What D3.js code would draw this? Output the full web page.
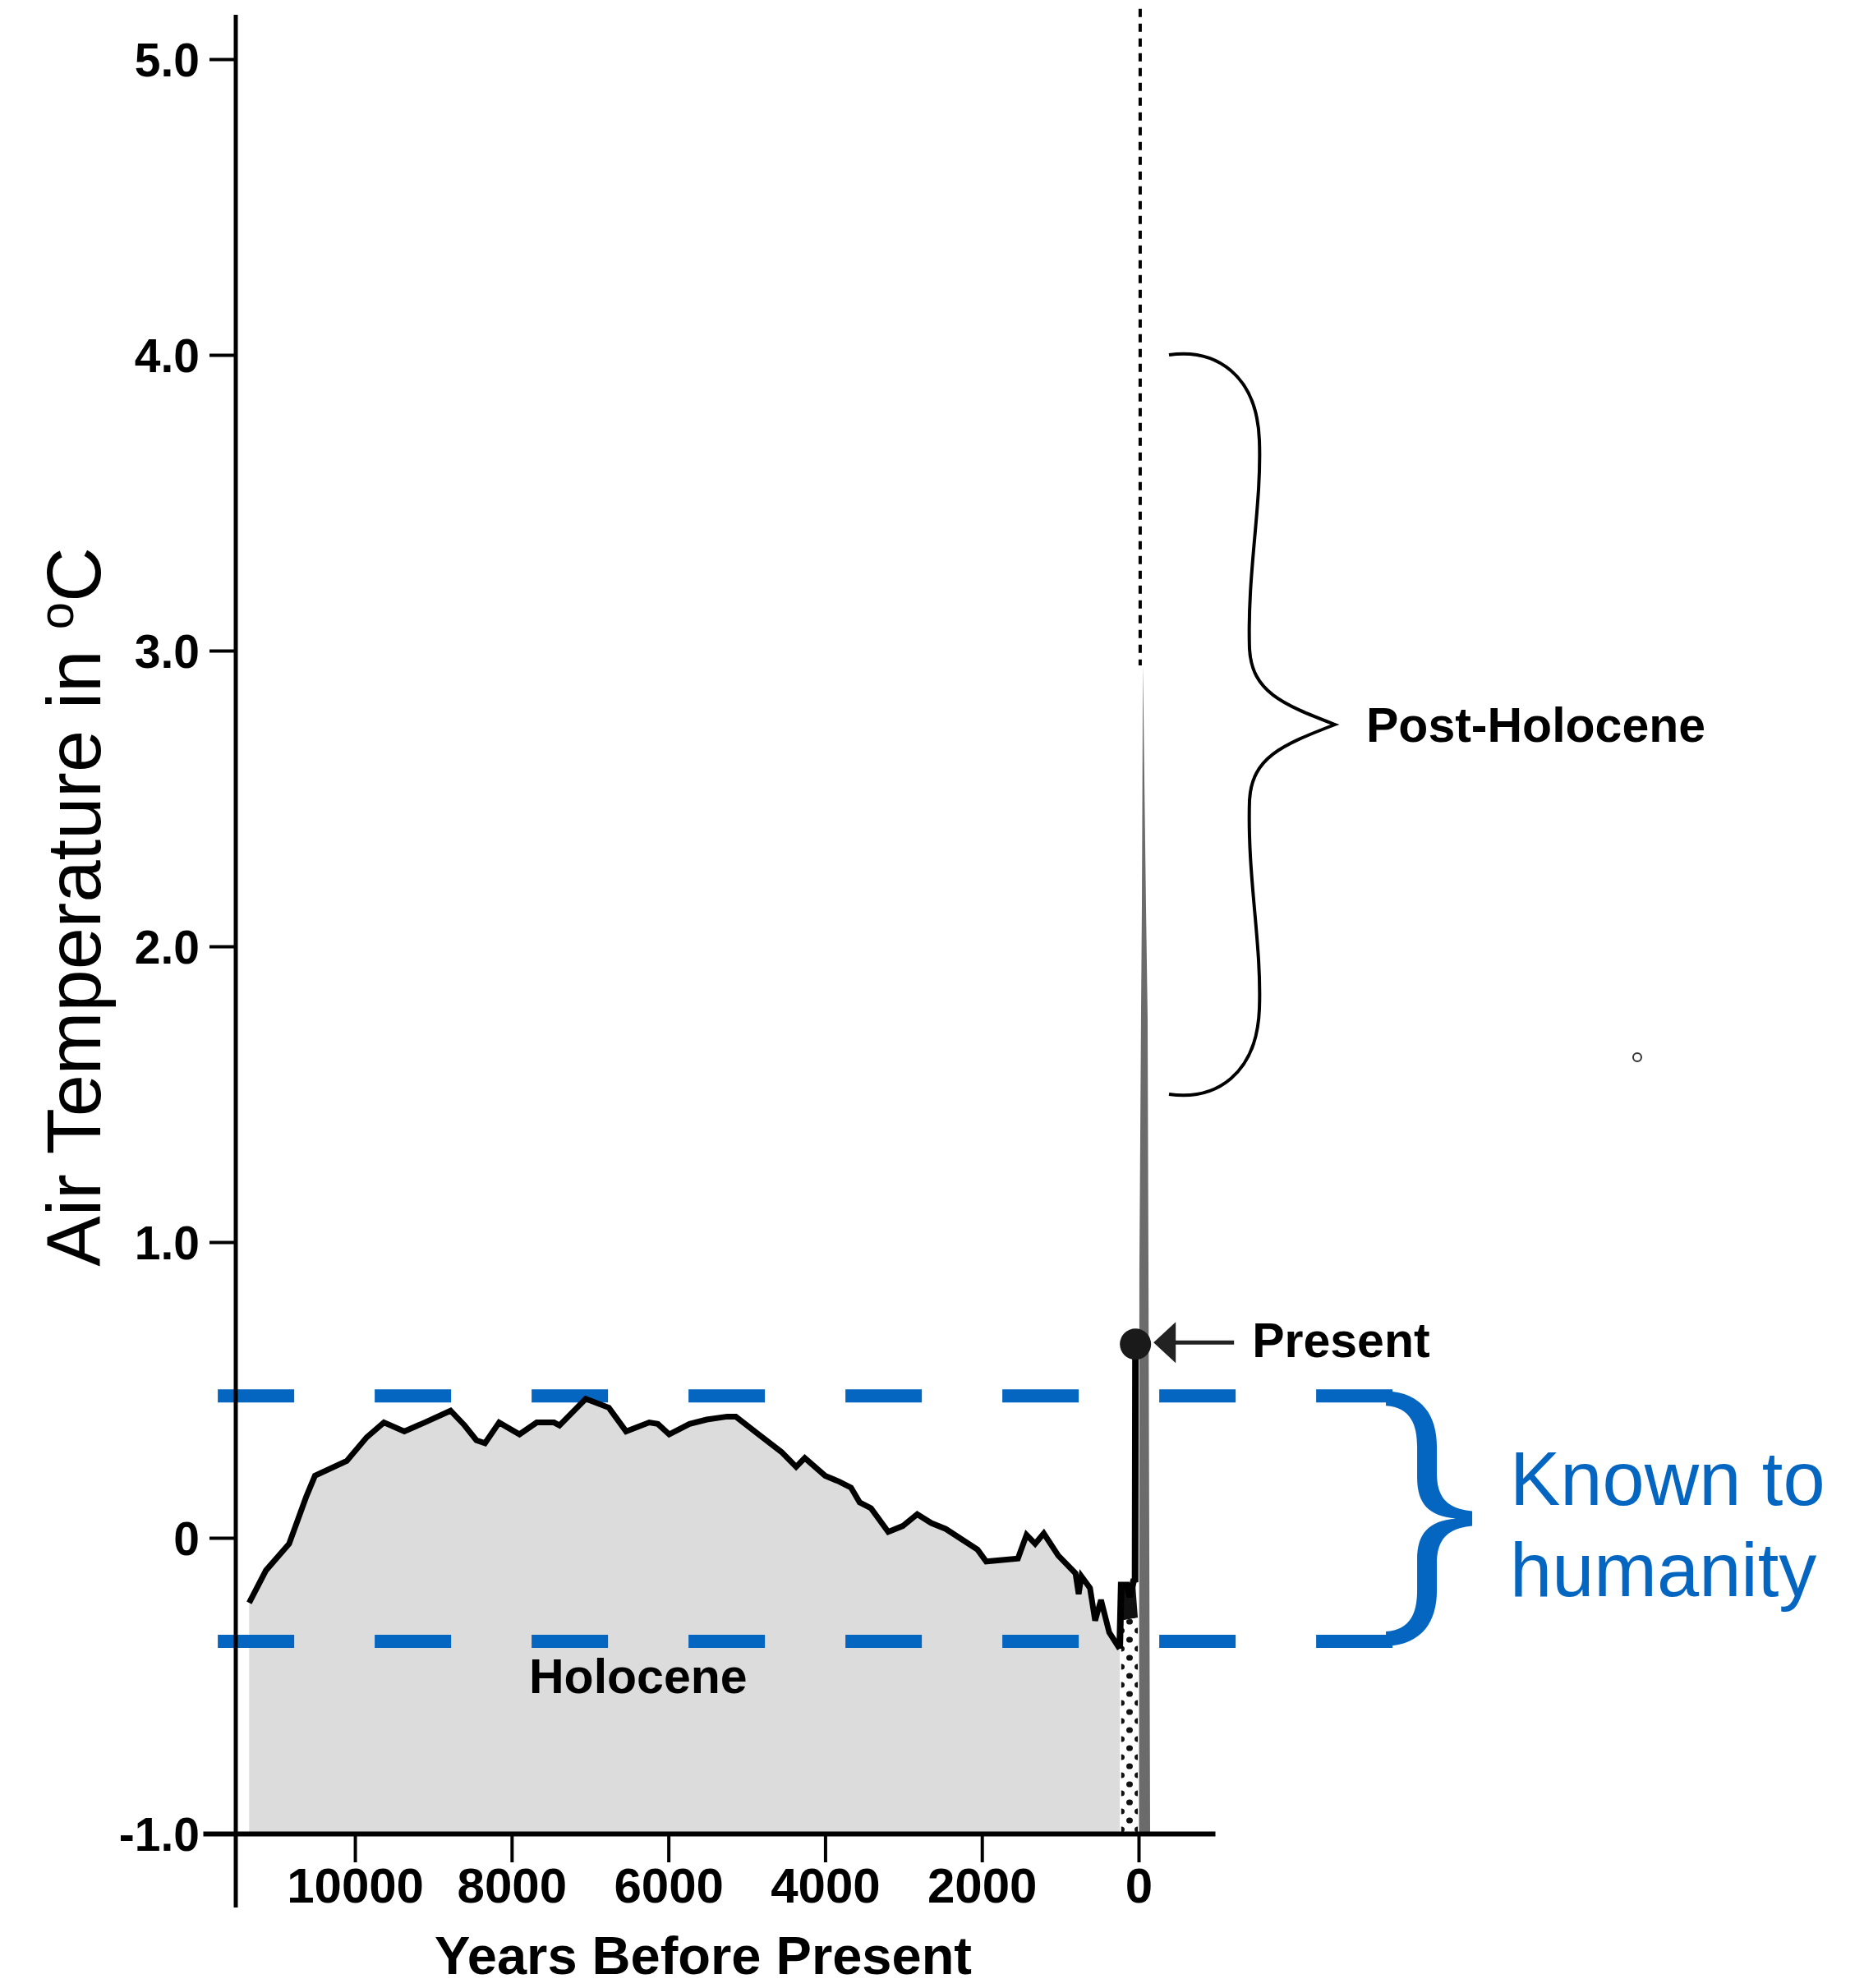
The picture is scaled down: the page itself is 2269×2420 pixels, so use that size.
<!DOCTYPE html>
<html><head><meta charset="utf-8">
<script src="https://cdn.jsdelivr.net/npm/d3@7"></script>
<style>body{margin:0;background:#fff}svg{display:block}</style>
</head><body>
<svg id="chart" width="2269" height="2420"></svg>
<script>
// ---------- data ----------
const holoceneYears = [11350, 11135, 10840, 10620, 10510, 10105, 9850, 9630, 9370, 9110, 8780, 8600, 8450, 8340, 8160, 7900, 7680, 7460, 7390, 7055, 6760, 6540, 6245, 6135, 5990, 5730, 5510, 5250, 5140, 4850, 4555, 4370, 4260, 4000, 3820, 3670, 3560, 3415, 3195, 3010, 2825, 2645, 2460, 2055, 1945, 1540, 1430, 1320, 1210, 1025, 805, 765, 730, 620, 555, 480, 375, 241];
const holoceneTemps = [-0.22, -0.11, -0.02, 0.14, 0.21, 0.26, 0.34, 0.39, 0.36, 0.39, 0.43, 0.38, 0.33, 0.32, 0.39, 0.35, 0.39, 0.39, 0.38, 0.47, 0.44, 0.36, 0.39, 0.385, 0.35, 0.385, 0.40, 0.41, 0.41, 0.35, 0.29, 0.24, 0.27, 0.21, 0.19, 0.17, 0.12, 0.10, 0.02, 0.04, 0.08, 0.05, 0.03, -0.04, -0.08, -0.07, 0.01, -0.02, 0.015, -0.06, -0.12, -0.19, -0.13, -0.17, -0.28, -0.21, -0.32, -0.375];
const instrumentalYears = [241, 222, 150, 110, 60, 45, 40];
const instrumentalTemps = [-0.375, -0.16, -0.16, -0.2, -0.14, -0.15, 0.62];
const presentYear = 40, presentTemp = 0.655;
const dottedYears = [222, 10, 10, 222];
const dottedTemps = [-0.28, -0.27, -1.0, -1.0];
const projectionYears = [-55, -94, -115, -126, -147, -5, -10, -31, -42];
const projectionTemps = [2.95, 2.14, 1.76, 0.9, -1.0, -1.0, 0.9, 1.76, 2.14];
const projectionLineYear = -20, projectionLineTemps = [5.17, 2.95];
const knownRange = [-0.35, 0.48];
const knownLineYears = [11750, -3240];
const postHoloceneRange = [1.5, 4.0];
const xTickValues = [10000, 8000, 6000, 4000, 2000, 0];
const yTickValues = [-1, 0, 1, 2, 3, 4, 5];
const yTickLabels = ["-1.0", "0", "1.0", "2.0", "3.0", "4.0", "5.0"];
const strayMark = {year: -6363, temp: 1.625};

// ---------- setup ----------
const FONT = "'Liberation Sans', Arial, Helvetica, sans-serif";
const svg = d3.select("#chart");
const x = d3.scaleLinear().domain([11940, -975]).range([247, 1479]);
const y = d3.scaleLinear().domain([-1, 5]).range([2232, 72]);
const yAxisX = 287;

const defs = svg.append("defs");
const pat = defs.append("pattern").attr("id", "dots").attr("patternUnits", "userSpaceOnUse")
  .attr("width", 20).attr("height", 22);
pat.append("rect").attr("width", 20).attr("height", 22).attr("fill", "#fff");
pat.append("ellipse").attr("cx", 5).attr("cy", 5).attr("rx", 4).attr("ry", 3.6).attr("fill", "#111");
pat.append("ellipse").attr("cx", 15).attr("cy", 16).attr("rx", 4).attr("ry", 3.6).attr("fill", "#111");

const holo = holoceneYears.map((d, i) => ({year: d, temp: holoceneTemps[i]}));
const inst = instrumentalYears.map((d, i) => ({year: d, temp: instrumentalTemps[i]}));
const dotted = dottedYears.map((d, i) => ({year: d, temp: dottedTemps[i]}));
const proj = projectionYears.map((d, i) => ({year: d, temp: projectionTemps[i]}));

const line = d3.line().x(d => x(d.year)).y(d => y(d.temp));
const area = d3.area().x(d => x(d.year)).y0(y(-1)).y1(d => y(d.temp));

// gray Holocene area
svg.append("path").datum(holo).attr("d", area).attr("fill", "#dcdcdc");

// dark fill between instrumental wiggles and dotted region
const darkPoly = inst.slice(1, inst.length - 1).concat([dotted[1], dotted[0]]);
svg.append("path").attr("d", line(darkPoly) + "Z").attr("fill", "#111");

// dotted region
svg.append("path").attr("d", line(dotted) + "Z").attr("fill", "url(#dots)");

// projection spike
svg.append("path").attr("d", line(proj) + "Z").attr("fill", "#6b6b6b");

// dotted vertical line above spike
svg.append("line")
  .attr("x1", x(projectionLineYear)).attr("x2", x(projectionLineYear))
  .attr("y1", y(projectionLineTemps[0])).attr("y2", y(projectionLineTemps[1]))
  .attr("stroke", "#000").attr("stroke-width", 4).attr("stroke-dasharray", "10,8");

// blue dashed lines
knownRange.forEach(v => {
  svg.append("line")
    .attr("x1", x(knownLineYears[0])).attr("x2", x(knownLineYears[1]))
    .attr("y1", y(v)).attr("y2", y(v))
    .attr("stroke", "#0566c1").attr("stroke-width", 16)
    .attr("stroke-dasharray", "93,98");
});

// Holocene line
svg.append("path").datum(holo).attr("d", line).attr("fill", "none")
  .attr("stroke", "#000").attr("stroke-width", 7).attr("stroke-linejoin", "miter").attr("stroke-miterlimit", 3);

// instrumental line
svg.append("path").datum(inst).attr("d", line).attr("fill", "none")
  .attr("stroke", "#000").attr("stroke-width", 8).attr("stroke-linejoin", "miter").attr("stroke-miterlimit", 3);

// present dot
const px = x(presentYear), py = y(presentTemp);
svg.append("circle").attr("cx", px).attr("cy", py).attr("r", 19).attr("fill", "#1a1a1a");

// present arrow
const tipX = px + 22;
svg.append("path")
  .attr("d", `M${tipX},${py - 2} L${tipX + 27},${py - 27} L${tipX + 27},${py + 23} Z`)
  .attr("fill", "#222");
svg.append("line").attr("x1", tipX + 25).attr("x2", tipX + 98).attr("y1", py - 2).attr("y2", py - 2)
  .attr("stroke", "#222").attr("stroke-width", 5);
svg.append("text").attr("x", tipX + 120).attr("y", py + 16).text("Present")
  .attr("font-family", FONT).attr("font-weight", "bold").attr("font-size", 59).attr("fill", "#000");

// ---------- axes ----------
const xAxis = d3.axisBottom(x).tickValues(xTickValues).tickFormat(d3.format("d"))
  .tickSize(35).tickSizeOuter(0).tickPadding(6);
const gx = svg.append("g").attr("transform", `translate(0,${y(-1)})`).call(xAxis)
  .attr("font-family", FONT).attr("font-size", 60).attr("font-weight", "bold");
gx.select(".domain").attr("stroke", "#000").attr("stroke-width", 6);
gx.selectAll(".tick line").attr("stroke", "#000").attr("stroke-width", 4);
gx.selectAll(".tick text").attr("fill", "#000");

const yAxis = d3.axisLeft(y).tickValues(yTickValues).tickFormat((d, i) => yTickLabels[i])
  .tickSize(32).tickSizeOuter(0).tickPadding(12);
const gy = svg.append("g").attr("transform", `translate(${yAxisX},0)`).call(yAxis)
  .attr("font-family", FONT).attr("font-size", 57).attr("font-weight", "bold");
gy.select(".domain").remove();
gy.selectAll(".tick line").attr("stroke", "#000").attr("stroke-width", 4);
gy.selectAll(".tick text").attr("fill", "#000").attr("dy", "0.36em");
svg.append("line").attr("x1", yAxisX).attr("x2", yAxisX).attr("y1", y(5.15)).attr("y2", y(-1.25))
  .attr("stroke", "#000").attr("stroke-width", 5);

// axis titles
svg.append("text").attr("x", 856).attr("y", 2403).attr("text-anchor", "middle")
  .attr("font-family", FONT).attr("font-weight", "bold").attr("font-size", 65).attr("fill", "#000")
  .text("Years Before Present");

const yt = svg.append("text").attr("transform", "translate(122,1104) rotate(-90)")
  .attr("text-anchor", "middle").attr("font-family", FONT).attr("font-size", 92).attr("fill", "#000");
yt.append("tspan").text("Air Temperature in ");
yt.append("tspan").attr("font-size", 60).attr("dy", "-0.55em").text("o");
yt.append("tspan").attr("dy", "0.36em").text("C");

// Holocene label
svg.append("text").attr("x", 644).attr("y", 2061)
  .attr("font-family", FONT).attr("font-weight", "bold").attr("font-size", 59).attr("fill", "#000")
  .text("Holocene");

// ---------- Post-Holocene brace ----------
{
  const x0 = 1423, yT = y(postHoloceneRange[1]), yB = y(postHoloceneRange[0]);
  const ym = (yT + yB) / 2;
  const d = `M${x0},${yT}
    C${x0 + 57},${yT - 8} ${x0 + 107},${yT + 24} ${x0 + 110},${yT + 104}
    C${x0 + 113},${yT + 184} ${x0 + 95},${yT + 264} ${x0 + 98},${ym - 92}
    C${x0 + 101},${ym - 40} ${x0 + 137},${ym - 25} ${x0 + 202},${ym}
    C${x0 + 137},${ym + 25} ${x0 + 101},${ym + 40} ${x0 + 98},${ym + 92}
    C${x0 + 95},${yB - 264} ${x0 + 113},${yB - 184} ${x0 + 110},${yB - 104}
    C${x0 + 107},${yB - 24} ${x0 + 57},${yB + 8} ${x0},${yB}`;
  svg.append("path").attr("d", d).attr("fill", "none").attr("stroke", "#000").attr("stroke-width", 4);
  svg.append("text").attr("x", 1663).attr("y", ym + 21)
    .attr("font-family", FONT).attr("font-weight", "bold").attr("font-size", 59).attr("fill", "#000")
    .text("Post-Holocene");
}

// ---------- Known to humanity brace ----------
{
  const x0 = x(knownLineYears[1]) - 8, yT = y(knownRange[1]), yB = y(knownRange[0]);
  const ym = (yT + yB) / 2;
  const d = `M${x0},${yT - 6}
    C${x0 + 45},${yT - 4} ${x0 + 62},${yT + 25} ${x0 + 62},${yT + 62}
    L${x0 + 62},${ym - 55}
    C${x0 + 62},${ym - 25} ${x0 + 75},${ym - 12} ${x0 + 105},${ym - 9}
    L${x0 + 105},${ym + 9}
    C${x0 + 75},${ym + 12} ${x0 + 62},${ym + 25} ${x0 + 62},${ym + 55}
    L${x0 + 62},${yB - 62}
    C${x0 + 62},${yB - 25} ${x0 + 45},${yB + 4} ${x0},${yB + 6}
    L${x0},${yB - 12}
    C${x0 + 30},${yB - 14} ${x0 + 38},${yB - 35} ${x0 + 38},${yB - 62}
    L${x0 + 38},${ym + 50}
    C${x0 + 38},${ym + 18} ${x0 + 52},${ym + 3} ${x0 + 85},${ym}
    C${x0 + 52},${ym - 3} ${x0 + 38},${ym - 18} ${x0 + 38},${ym - 50}
    L${x0 + 38},${yT + 62}
    C${x0 + 38},${yT + 35} ${x0 + 30},${yT + 14} ${x0},${yT + 12} Z`;
  svg.append("path").attr("d", d).attr("fill", "#0566c1");
  const kt = svg.append("text").attr("font-family", FONT).attr("font-size", 92).attr("fill", "#0566c1");
  kt.append("tspan").attr("x", 1838).attr("y", 1832).text("Known to");
  kt.append("tspan").attr("x", 1838).attr("y", 1943).text("humanity");
}

// stray small circle mark
svg.append("circle").attr("cx", x(strayMark.year)).attr("cy", y(strayMark.temp)).attr("r", 5)
  .attr("fill", "none").attr("stroke", "#333").attr("stroke-width", 2);
</script>
</body></html>
